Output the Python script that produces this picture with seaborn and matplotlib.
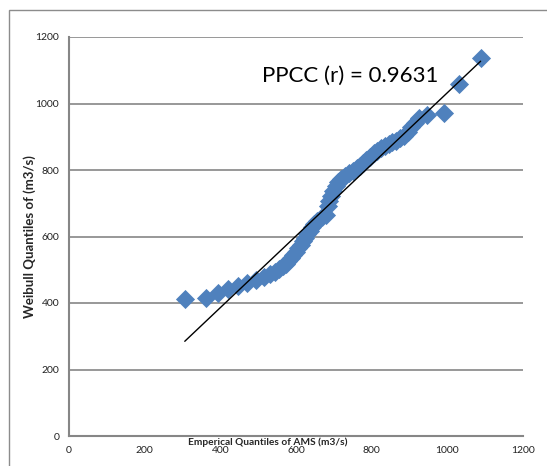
import matplotlib
matplotlib.use("Agg")
import matplotlib.pyplot as plt
import seaborn as sns
import pandas as pd
from matplotlib.patches import Rectangle

# ------------------ data ------------------
emp_q = [306, 362, 394, 420, 447, 470, 494, 515,
         532, 545, 555, 565, 573, 580, 587, 593, 600, 606, 612, 618,
         624, 630, 636, 642, 648, 655, 668, 680, 684, 688, 692, 698,
         705, 712, 720, 730, 740, 750, 760, 770, 778, 786, 795, 805,
         815, 825, 835, 845, 855, 865, 875, 885, 895, 905, 915, 925,
         945, 990, 1030, 1088]
weibull_q = [412, 415, 430, 443, 452, 461, 470, 478,
             486, 494, 502, 510, 518, 526, 535, 544, 554, 564, 575, 585,
             596, 607, 618, 628, 638, 648, 658, 666, 692, 708, 722, 738,
             752, 764, 774, 782, 790, 797, 805, 813, 820, 830, 840, 850,
             857, 865, 872, 878, 883, 888, 895, 903, 915, 928, 942, 956,
             966, 972, 1060, 1137]
x_ticks = [0, 200, 400, 600, 800, 1000, 1200]
y_ticks = [0, 200, 400, 600, 800, 1000, 1200]
ppcc_label = "PPCC (r) = 0.9631"

df = pd.DataFrame({"emp": emp_q, "wei": weibull_q})

# ------------------ style ------------------
sns.set_style("white")
plt.rcParams['font.family'] = ['Lato', 'DejaVu Sans']

grid_col = "#868686"
blue = "#4F81BD"

fig = plt.figure(figsize=(5.47, 4.66), dpi=100)
ax = fig.add_axes([69 / 547, 1 - 436 / 466, 454 / 547, 399 / 466])

# chart outer border (only top/left edges fall inside the picture)
fig.add_artist(Rectangle((9 / 547, -0.2), 1.3, 0.2 + (1 - 10 / 466),
                         transform=fig.transFigure, fill=False,
                         edgecolor="#8c8c8c", linewidth=1.0, clip_on=False))

sns.scatterplot(data=df, x="emp", y="wei", marker="D", s=95, color=blue,
                edgecolor=blue, linewidth=0, ax=ax, zorder=3)
sns.regplot(data=df, x="emp", y="wei", scatter=False, ci=None, truncate=True,
            line_kws={"color": "black", "linewidth": 1.0, "zorder": 4}, ax=ax)

ax.set_xlim(0, 1200)
ax.set_ylim(0, 1200)
ax.set_xticks(x_ticks)
ax.set_yticks(y_ticks)
ax.tick_params(axis="both", labelsize=7.5, length=4, width=1, color=grid_col,
               direction="out", pad=3, labelcolor="#222222")
ax.yaxis.grid(True, color=grid_col, linewidth=1.2)
ax.xaxis.grid(False)
ax.set_axisbelow(True)

for side in ["top", "right"]:
    ax.spines[side].set_visible(False)
for side in ["left", "bottom"]:
    ax.spines[side].set_color(grid_col)
    ax.spines[side].set_linewidth(1.5)

ax.set_xlabel("Emperical Quantiles of AMS (m3/s)", fontsize=7.3,
              fontweight="bold")
ax.xaxis.set_label_coords(0.438, -0.003)
ax.set_ylabel("Weibull Quantiles of (m3/s)", fontsize=9.5, fontweight="bold")
ax.yaxis.set_label_coords(-0.072, 0.5)

ax.text(510, 1082, ppcc_label, fontsize=16, va="center", ha="left",
        color="black")

fig.savefig("out.png", dpi=100)
